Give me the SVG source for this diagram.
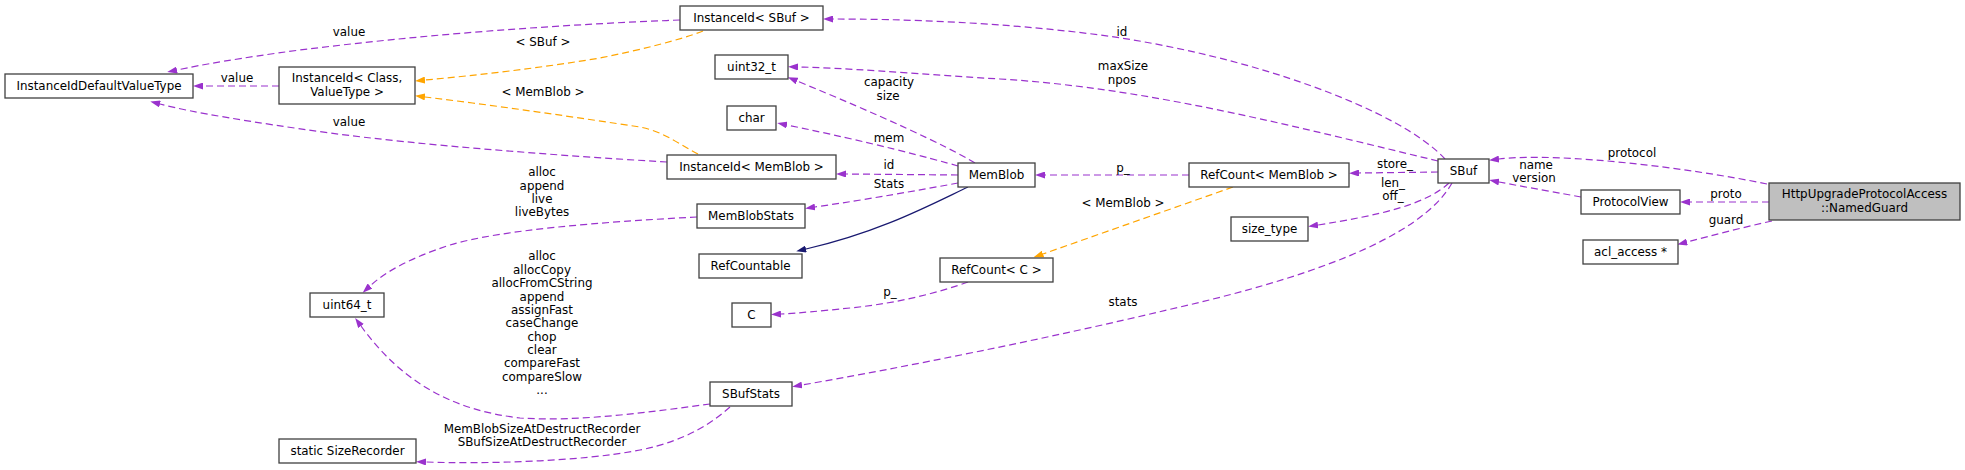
<svg xmlns="http://www.w3.org/2000/svg" width="1965" height="470" viewBox="0 0 1965 470">
<style>
text{font-family:"DejaVu Sans","Liberation Sans",sans-serif;font-size:11.9px;fill:#000}
.n text,.lbl{text-anchor:middle}
.n rect{fill:#fff;stroke:#404040;stroke-width:1.3}
.n rect.main{fill:#bfbfbf}
.e{fill:none;stroke-width:1.2}
.p{stroke:#9a32cd;stroke-dasharray:7,4}
.o{stroke:#ffa500;stroke-dasharray:7,4}
.b{stroke:#191970}
</style>
<defs>
<marker id="ap" viewBox="0 0 10 7" refX="0" refY="3.5" markerWidth="10" markerHeight="7" markerUnits="userSpaceOnUse" orient="auto"><path d="M0,0L10,3.5L0,7z" fill="#9a32cd"/></marker>
<marker id="ao" viewBox="0 0 10 7" refX="0" refY="3.5" markerWidth="10" markerHeight="7" markerUnits="userSpaceOnUse" orient="auto"><path d="M0,0L10,3.5L0,7z" fill="#ffa500"/></marker>
<marker id="ab" viewBox="0 0 10 7" refX="0" refY="3.5" markerWidth="10" markerHeight="7" markerUnits="userSpaceOnUse" orient="auto"><path d="M0,0L10,3.5L0,7z" fill="#191970"/></marker>
</defs>
<rect width="1965" height="470" fill="#fff"/>
<g id="edges">
<path class="e p" marker-end="url(#ap)" d="M1767,184 C1690,168 1560,152 1499,159"/>
<path class="e p" marker-end="url(#ap)" d="M1769,202 L1690,202"/>
<path class="e p" marker-end="url(#ap)" d="M1772,221 C1740,228 1710,236 1687,242"/>
<path class="e p" marker-end="url(#ap)" d="M1581,197 C1560,193 1530,188 1499,182"/>
<path class="e p" marker-end="url(#ap)" d="M1445,159 C1400,110 1250,55 1100,35 C1000,22 900,19 833,19"/>
<path class="e p" marker-end="url(#ap)" d="M1438,161 C1300,128 1150,88 1000,79 C900,73 850,68 798,67"/>
<path class="e p" marker-end="url(#ap)" d="M1438,172 L1359,173"/>
<path class="e p" marker-end="url(#ap)" d="M1449,183 C1425,205 1380,215 1318,225"/>
<path class="e p" marker-end="url(#ap)" d="M1452,183 C1420,240 1300,280 1167,310 C1050,338 900,368 802,385"/>
<path class="e p" marker-end="url(#ap)" d="M1189,175 L1045,175"/>
<path class="e o" marker-end="url(#ao)" d="M1233,187 L1043,254"/>
<path class="e p" marker-end="url(#ap)" d="M968,282 C940,292 900,303 850,308 C820,311 800,313 781,314"/>
<path class="e p" marker-end="url(#ap)" d="M975,163 C945,145 880,115 797,81"/>
<path class="e p" marker-end="url(#ap)" d="M958,166 C930,158 870,142 787,125"/>
<path class="e p" marker-end="url(#ap)" d="M958,175 L846,174"/>
<path class="e p" marker-end="url(#ap)" d="M958,183 C920,190 870,199 815,207"/>
<path class="e b" marker-end="url(#ab)" d="M968,187 C930,205 880,232 806,249"/>
<path class="e o" marker-end="url(#ao)" d="M698,154 C680,145 665,132 640,127 C580,118 500,106 425,97"/>
<path class="e o" marker-end="url(#ao)" d="M703,31 C680,40 640,50 600,58 C540,68 480,75 425,80"/>
<path class="e p" marker-end="url(#ap)" d="M680,20 C550,25 420,35 300,50 C240,58 200,65 177,70"/>
<path class="e p" marker-end="url(#ap)" d="M279,86 L203,86"/>
<path class="e p" marker-end="url(#ap)" d="M667,162 C550,155 420,145 330,133 C250,122 190,112 160,104"/>
<path class="e p" marker-end="url(#ap)" d="M697,217 C600,222 500,230 450,245 C410,258 385,272 370,286"/>
<path class="e p" marker-end="url(#ap)" d="M710,404 C650,412 580,422 520,418 C450,410 400,380 361,326"/>
<path class="e p" marker-end="url(#ap)" d="M730,407 C715,420 690,440 640,450 C580,462 480,464 426,462"/>
<text class="lbl" x="1632" y="157">protocol</text>
<text class="lbl" x="1726" y="198">proto</text>
<text class="lbl" x="1726" y="224">guard</text>
<text class="lbl" x="1536" y="169">name</text>
<text class="lbl" x="1534" y="182">version</text>
<text class="lbl" x="1122" y="36">id</text>
<text class="lbl" x="1123" y="70">maxSize</text>
<text class="lbl" x="1122" y="84">npos</text>
<text class="lbl" x="1395" y="168">store_</text>
<text class="lbl" x="1393" y="187">len_</text>
<text class="lbl" x="1393" y="200">off_</text>
<text class="lbl" x="1123" y="306">stats</text>
<text class="lbl" x="1123" y="172">p_</text>
<text class="lbl" x="1123" y="207">&lt; MemBlob &gt;</text>
<text class="lbl" x="890" y="296">p_</text>
<text class="lbl" x="889" y="86">capacity</text>
<text class="lbl" x="888" y="100">size</text>
<text class="lbl" x="889" y="142">mem</text>
<text class="lbl" x="889" y="169">id</text>
<text class="lbl" x="889" y="188">Stats</text>
<text class="lbl" x="543" y="96">&lt; MemBlob &gt;</text>
<text class="lbl" x="543" y="46">&lt; SBuf &gt;</text>
<text class="lbl" x="349" y="36">value</text>
<text class="lbl" x="237" y="82">value</text>
<text class="lbl" x="349" y="126">value</text>
<text class="lbl" x="542" y="176">alloc</text>
<text class="lbl" x="542" y="190">append</text>
<text class="lbl" x="542" y="203">live</text>
<text class="lbl" x="542" y="216">liveBytes</text>
<text class="lbl" x="542" y="260">alloc</text>
<text class="lbl" x="542" y="274">allocCopy</text>
<text class="lbl" x="542" y="287">allocFromCString</text>
<text class="lbl" x="542" y="301">append</text>
<text class="lbl" x="542" y="314">assignFast</text>
<text class="lbl" x="542" y="327">caseChange</text>
<text class="lbl" x="542" y="341">chop</text>
<text class="lbl" x="542" y="354">clear</text>
<text class="lbl" x="542" y="367">compareFast</text>
<text class="lbl" x="542" y="381">compareSlow</text>
<text class="lbl" x="542" y="394">...</text>
<text class="lbl" x="542" y="433">MemBlobSizeAtDestructRecorder</text>
<text class="lbl" x="542" y="446">SBufSizeAtDestructRecorder</text>
</g>
<g id="n_default" class="n"><rect x="5" y="74" width="188" height="24"/><text x="99" y="90">InstanceIdDefaultValueType</text></g>
<g id="n_iid_class" class="n"><rect x="279" y="67" width="136" height="37"/><text x="347" y="81.5">InstanceId&lt; Class,</text><text x="347" y="95.5">ValueType &gt;</text></g>
<g id="n_iid_sbuf" class="n"><rect x="680" y="6" width="143" height="24"/><text x="751.5" y="22">InstanceId&lt; SBuf &gt;</text></g>
<g id="n_uint32" class="n"><rect x="715" y="55" width="73" height="24"/><text x="751.5" y="71">uint32_t</text></g>
<g id="n_char" class="n"><rect x="727" y="106" width="49" height="24"/><text x="751.5" y="122">char</text></g>
<g id="n_iid_memblob" class="n"><rect x="667" y="155" width="169" height="24"/><text x="751.5" y="171">InstanceId&lt; MemBlob &gt;</text></g>
<g id="n_memblob" class="n"><rect x="958" y="163" width="77" height="24"/><text x="996.5" y="179">MemBlob</text></g>
<g id="n_memblobstats" class="n"><rect x="697" y="204" width="108" height="24"/><text x="751" y="220">MemBlobStats</text></g>
<g id="n_refcountable" class="n"><rect x="699" y="254" width="103" height="24"/><text x="750.5" y="270">RefCountable</text></g>
<g id="n_c" class="n"><rect x="732" y="303" width="39" height="24"/><text x="751.5" y="319">C</text></g>
<g id="n_sbufstats" class="n"><rect x="710" y="382" width="82" height="24"/><text x="751" y="398">SBufStats</text></g>
<g id="n_refcount_c" class="n"><rect x="940" y="258" width="113" height="24"/><text x="996.5" y="274">RefCount&lt; C &gt;</text></g>
<g id="n_refcount_memblob" class="n"><rect x="1189" y="163" width="160" height="24"/><text x="1269" y="179">RefCount&lt; MemBlob &gt;</text></g>
<g id="n_size_type" class="n"><rect x="1231" y="217" width="77" height="24"/><text x="1269.5" y="233">size_type</text></g>
<g id="n_sbuf" class="n"><rect x="1438" y="159" width="51" height="24"/><text x="1463.5" y="175">SBuf</text></g>
<g id="n_protocolview" class="n"><rect x="1581" y="190" width="99" height="24"/><text x="1630.5" y="206">ProtocolView</text></g>
<g id="n_acl_access" class="n"><rect x="1583" y="240" width="95" height="24"/><text x="1630.5" y="256">acl_access *</text></g>
<g id="n_namedguard" class="n"><rect class="main" x="1769" y="183" width="191" height="37"/><text x="1864.5" y="198">HttpUpgradeProtocolAccess</text><text x="1864.5" y="212">::NamedGuard</text></g>
<g id="n_uint64" class="n"><rect x="310" y="293" width="74" height="24"/><text x="347" y="309">uint64_t</text></g>
<g id="n_sizerecorder" class="n"><rect x="279" y="439" width="137" height="24"/><text x="347.5" y="455">static SizeRecorder</text></g>
</svg>
